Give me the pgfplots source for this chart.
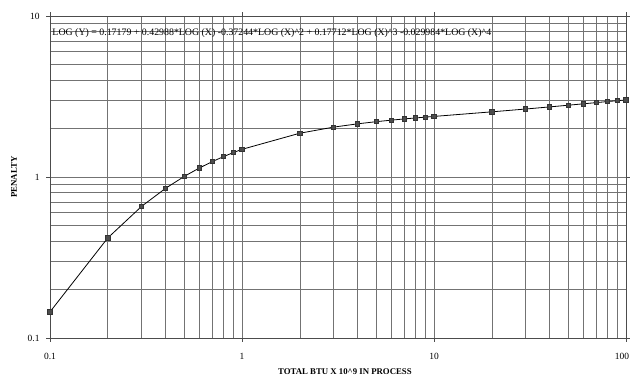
\documentclass[border=0pt]{standalone}
\usepackage{pgfplots}
\pgfplotsset{compat=1.18}
\usepackage{fontspec}
\setmainfont{Liberation Serif}
\begin{document}
\begin{tikzpicture}
\path[use as bounding box] (-50bp,-40bp) rectangle (580bp,338bp);
\begin{axis}[
 at={(0,0)}, anchor=south west,
 xmode=log, ymode=log,
 scale only axis, width=576bp, height=322bp,
 xmin=0.1, xmax=100, ymin=0.1, ymax=10,
 xtick={0.1,1,10,100}, xticklabels={0.1,1,10,\kern-8bp 100},
 ytick={0.1,1,10}, yticklabels={0.1,1,10},
 grid=both,
 major grid style={black!55, line width=0.6pt},
 minor grid style={black!55, line width=0.6pt},
 tick align=outside, major tick length=4bp, minor tick length=0pt,
 axis line style={black!70, line width=0.7pt},
 tick style={black!70, line width=0.6pt},
 xticklabel style={font=\fontsize{9.5}{10}\selectfont, yshift=-8bp},
 yticklabel style={font=\fontsize{9.5}{10}\selectfont, xshift=-3bp},
 clip=false,
]
\addplot[black, line width=0.8pt, mark=square*, mark size=2.2bp, mark options={fill=black!70, draw=black!80}] coordinates {
(0.1,0.1453) (0.2,0.4184) (0.3,0.6571) (0.4,0.8509) (0.5,1.0082) (0.6,1.1379) (0.7,1.2462) (0.8,1.3378) (0.9,1.4168)
(1,1.4853) (2,1.8707) (3,2.0408) (4,2.1394) (5,2.2060) (6,2.2554) (7,2.2944) (8,2.3266) (9,2.3543)
(10,2.3782) (20,2.5395) (30,2.6437) (40,2.7247) (50,2.7916) (60,2.8484) (70,2.8977) (80,2.9409) (90,2.9790) (100,3.0126)
};
\node[anchor=west, font=\fontsize{9.9}{10}\selectfont, inner sep=0pt] at (axis description cs:0.004,0.947) {LOG (Y) = 0.17179 + 0.42988*LOG (X) -0.37244*LOG (X)\textasciicircum 2 + 0.17712*LOG (X)\textasciicircum 3 -0.029984*LOG (X)\textasciicircum 4};
\node[font=\bfseries\fontsize{8.8}{10}\selectfont, inner sep=0pt] at (axis description cs:0.512,-0.1056) {TOTAL BTU X 10\textasciicircum 9 IN PROCESS};
\node[rotate=90, font=\bfseries\fontsize{8.8}{10}\selectfont, inner sep=0pt] at (axis description cs:-0.0625,0.5) {PENALTY};
\end{axis}
\end{tikzpicture}
\end{document}
